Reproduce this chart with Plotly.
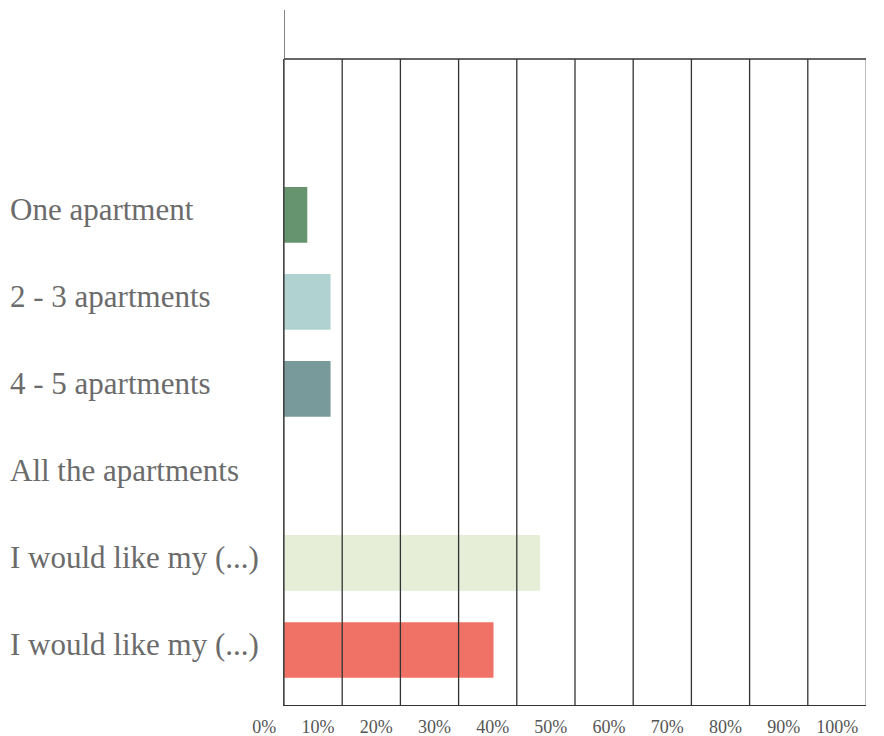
import plotly.graph_objects as go

categories = ["One apartment", "2 - 3 apartments", "4 - 5 apartments",
              "All the apartments", "I would like my (...)", "I would like my (...)"]
values = [4, 8, 8, 0, 44, 36]
colors = ["#66946E", "#B0D3D1", "#789A9A", "#4F7A7A", "#E6EED8", "#F07266"]
x_ticks = [0, 10, 20, 30, 40, 50, 60, 70, 80, 90, 100]
x_tick_labels = [f"{t}%" for t in x_ticks]

positions = list(range(len(categories)))
FONT = "Liberation Serif"

fig = go.Figure()
fig.add_trace(go.Bar(
    y=positions, x=values, orientation="h", width=0.64,
    marker=dict(color=colors, line=dict(width=0)),
    hoverinfo="skip", showlegend=False,
))

shapes = []
# vertical gridlines drawn above bars
for t in x_ticks[1:-1]:
    shapes.append(dict(type="line", xref="x", yref="paper", x0=t, x1=t, y0=0, y1=1,
                       line=dict(color="#333333", width=1.3), layer="above"))
# right border
shapes.append(dict(type="line", xref="x", yref="paper", x0=100, x1=100, y0=0, y1=1,
                   line=dict(color="#999999", width=1.3), layer="above"))
# top border
shapes.append(dict(type="line", xref="x", yref="paper", x0=0, x1=100, y0=1, y1=1,
                   line=dict(color="#333333", width=1.3), layer="above"))
# left axis extension above plot
shapes.append(dict(type="line", xref="x", yref="paper", x0=0, x1=0, y0=0, y1=1 + 49 / 646,
                   line=dict(color="#444444", width=1.3), layer="above"))

annotations = []
for i, c in enumerate(categories):
    annotations.append(dict(
        text=c, xref="paper", yref="y", x=-276 / 582, y=i, xanchor="left", yanchor="middle",
        showarrow=False, yshift=5, font=dict(family=FONT, size=31, color="#6b6b6b"),
    ))

fig.update_layout(
    width=876, height=728,
    margin=dict(l=276, r=18, t=51, b=31, pad=0),
    paper_bgcolor="white", plot_bgcolor="white",
    bargap=0.36,
    shapes=shapes, annotations=annotations,
    xaxis=dict(
        range=[0, 100], tickvals=x_ticks, ticktext=x_tick_labels, automargin=False,
        showgrid=False, zeroline=False, showline=True, linecolor="#333333", linewidth=1.3,
        ticks="", ticklabelposition="outside left", ticklabelshift=-7, ticklabelstandoff=5,
        tickfont=dict(family=FONT, size=18, color="#555555"),
        fixedrange=True,
    ),
    yaxis=dict(
        range=[5.632, -1.79], tickvals=positions, showticklabels=False, automargin=False,
        showgrid=False, zeroline=False, showline=True, linecolor="#444444", linewidth=1.3,
        ticks="", fixedrange=True,
    ),
)

fig.write_html("out.html")
